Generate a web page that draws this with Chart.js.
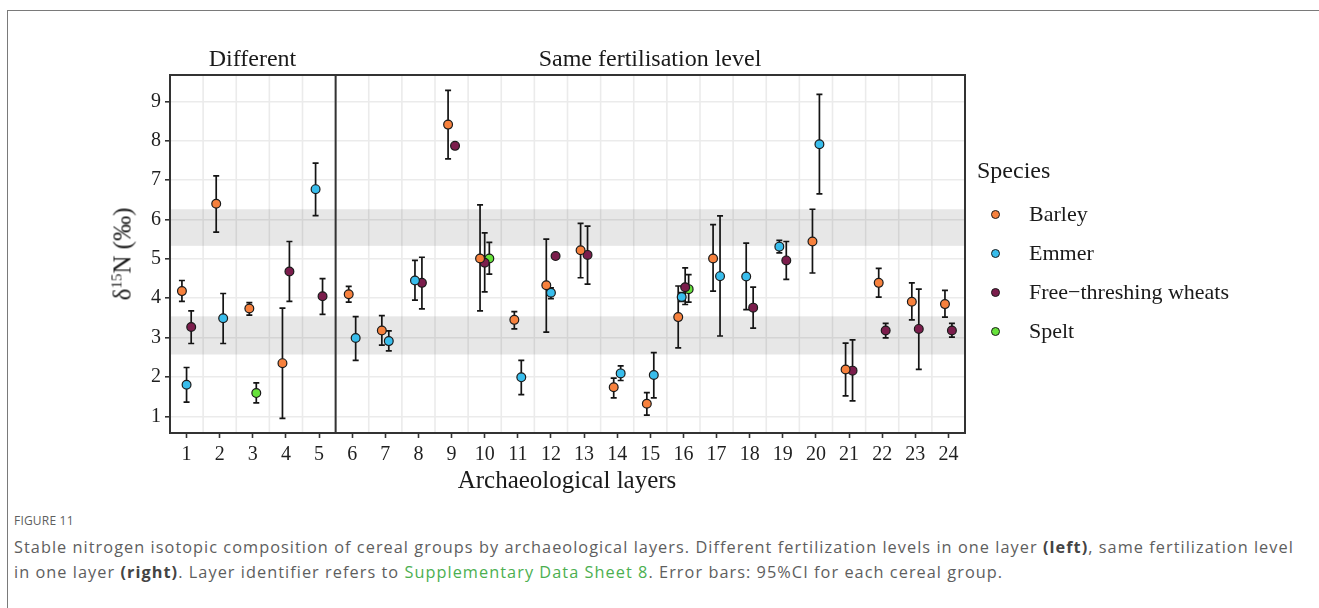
<!DOCTYPE html>
<html>
<head>
<meta charset="utf-8">
<script src="https://cdn.jsdelivr.net/npm/chart.js@4.4.1/dist/chart.umd.min.js"></script>
<style>
  html, body { margin: 0; padding: 0; background: #fff; }
  body { width: 1319px; height: 608px; position: relative; overflow: hidden; }
  #frame { position: absolute; left: 7px; top: 10px; width: 1400px; height: 700px;
           border-left: 1px solid #7a7a7a; border-top: 1px solid #7a7a7a; }
  canvas { position: absolute; left: 0; top: 0; }
  .serif { position: absolute; font-family: "Liberation Serif", "Times New Roman", serif; color: #1a1a1a; line-height: 1; white-space: nowrap; }
  .ptitle { font-size: 24px; transform: translateX(-50%); }
  #ytitle { font-size: 25px; left: 122px; top: 254px; transform: translate(-50%, -50%) rotate(-90deg); }
  #ytitle sup { font-size: 15px; vertical-align: 9px; }
  #xtitle { font-size: 25px; left: 567px; top: 467px; transform: translateX(-50%); }
  #legtitle { font-size: 24px; left: 977px; top: 158px; }
  .legitem { font-size: 22px; left: 1029px; }
  .legdot { position: absolute; width: 7px; height: 7px; border-radius: 50%; border: 1.2px solid #1a1a1a; left: 991.3px; }
  #caption { position: absolute; left: 14px; top: 512px; width: 1292px; font-family: "Open Sans", "Noto Sans", sans-serif; color: #5e5e5e; }
  #fig { font-size: 12px; letter-spacing: 0.2px; margin-bottom: 6px; }
  #captext { font-size: 16.3px; line-height: 25px; letter-spacing: 1.05px; }
  #captext b { color: #444; }
  #captext .lnk { color: #4caf50; }
</style>
</head>
<body>
<div id="frame"></div>
<canvas id="c" width="1319" height="500"></canvas>
<div class="serif ptitle" style="left:252.5px; top:46px;">Different</div>
<div class="serif ptitle" style="left:650px; top:46px;">Same fertilisation level</div>
<div class="serif" id="ytitle">δ<sup>15</sup>N (‰)</div>
<div class="serif" id="xtitle">Archaeological layers</div>
<div class="serif" id="legtitle">Species</div>
<div id="legend"></div>
<div id="caption">
  <div id="fig">FIGURE 11</div>
  <div id="captext">Stable nitrogen isotopic composition of cereal groups by archaeological layers. Different fertilization levels in one layer <b>(left)</b>, same fertilization level in one layer <b>(right)</b>. Layer identifier refers to <span class="lnk">Supplementary Data Sheet 8</span>. Error bars: 95%CI for each cereal group.</div>
</div>
<script>
// ---------------- data ----------------
const xTickLabels = ['1','2','3','4','5','6','7','8','9','10','11','12','13','14','15','16','17','18','19','20','21','22','23','24'];
const yTickValues = [1, 2, 3, 4, 5, 6, 7, 8, 9];
const speciesNames = ['Barley', 'Emmer', 'Free\u2212threshing wheats', 'Spelt'];
const speciesColors = ['#f7813d', '#38bdec', '#7b1d4c', '#66e23a'];

const barleyLayers = [1, 2, 3, 4, 6, 7, 9, 10, 11, 12, 13, 14, 15, 16, 17, 20, 21, 22, 23, 24];
const barleyMean   = [4.18, 6.40, 3.74, 2.35, 4.10, 3.18, 8.41, 5.01, 3.45, 4.33, 5.22, 1.74, 1.32, 3.52, 5.01, 5.44, 2.19, 4.39, 3.91, 3.85];
const barleyLow    = [3.92, 5.68, 3.57, 0.95, 3.90, 2.81, 7.54, 3.68, 3.22, 3.14, 4.52, 1.47, 1.03, 2.74, 4.18, 4.64, 1.52, 4.03, 3.45, 3.52];
const barleyHigh   = [4.45, 7.11, 3.89, 3.75, 4.30, 3.56, 9.28, 6.37, 3.66, 5.50, 5.90, 1.97, 1.60, 4.31, 5.87, 6.26, 2.86, 4.76, 4.39, 4.20];

const emmerLayers = [1, 2, 5, 6, 7, 8, 11, 12, 14, 15, 16, 17, 18, 19, 20];
const emmerMean   = [1.80, 3.49, 6.77, 2.99, 2.91, 4.45, 1.99, 4.14, 2.09, 2.05, 4.03, 4.56, 4.55, 5.31, 7.91];
const emmerLow    = [1.36, 2.85, 6.10, 2.42, 2.66, 3.95, 1.55, 3.99, 1.91, 1.47, 3.92, 3.04, 3.71, 5.15, 6.65];
const emmerHigh   = [2.24, 4.12, 7.43, 3.53, 3.17, 4.96, 2.42, 4.26, 2.28, 2.62, 4.14, 6.09, 5.40, 5.47, 9.18];

const ftwLayers = [1, 4, 5, 8, 9, 10, 12, 13, 16, 18, 19, 21, 22, 23, 24];
const ftwMean   = [3.27, 4.68, 4.05, 4.39, 7.87, 4.90, 5.07, 5.10, 4.28, 3.76, 4.96, 2.16, 3.18, 3.22, 3.18];
const ftwLow    = [2.85, 3.92, 3.59, 3.73, null, 4.16, null, 4.36, 3.84, 3.24, 4.48, 1.39, 2.99, 2.19, 3.01];
const ftwHigh   = [3.68, 5.44, 4.50, 5.04, null, 5.66, null, 5.83, 4.77, 4.28, 5.44, 2.94, 3.36, 4.23, 3.36];

const speltLayers = [3, 10, 16];
const speltMean   = [1.59, 5.01, 4.23];
const speltLow    = [1.34, 4.61, 3.90];
const speltHigh   = [1.85, 5.42, 4.60];

const bandLow  = [2.57, 5.33];
const bandHigh = [3.54, 6.26];
const panelSplit = 5.5;

// ---------------- build ----------------
const series = [
  { layers: barleyLayers, mean: barleyMean, lo: barleyLow, hi: barleyHigh },
  { layers: emmerLayers,  mean: emmerMean,  lo: emmerLow,  hi: emmerHigh },
  { layers: ftwLayers,    mean: ftwMean,    lo: ftwLow,    hi: ftwHigh },
  { layers: speltLayers,  mean: speltMean,  lo: speltLow,  hi: speltHigh }
];
const DODGE = 0.42;
const presence = {};
series.forEach((s, si) => s.layers.forEach(L => { (presence[L] = presence[L] || []).push(si); }));
function dodgeX(L, si) {
  const g = presence[L]; const n = g.length; const i = g.indexOf(si);
  return L + (i - (n - 1) / 2) * DODGE / n;
}
const xTickValues = xTickLabels.map(Number);

const datasets = series.map((s, si) => ({
  label: speciesNames[si],
  data: s.layers.map((L, k) => ({ x: dodgeX(L, si), y: s.mean[k], lo: s.lo[k], hi: s.hi[k] })),
  backgroundColor: speciesColors[si],
  borderColor: '#1a1a1a',
  borderWidth: 1.2,
  pointRadius: 4.4,
  pointHoverRadius: 4.4,
  showLine: false
}));

// legend (HTML)
const leg = document.getElementById('legend');
const legBase = [221.7, 260.6, 299.5, 338.4];
speciesNames.forEach((n, i) => {
  const d = document.createElement('div');
  d.className = 'legdot';
  d.style.top = (legBase[i] - 7 - 4.7) + 'px';
  d.style.background = speciesColors[i];
  leg.appendChild(d);
  const t = document.createElement('div');
  t.className = 'serif legitem';
  t.style.top = (legBase[i] - 18.4) + 'px';
  t.textContent = n;
  leg.appendChild(t);
});

const decor = {
  id: 'decor',
  beforeDatasetsDraw(chart) {
    const { ctx, chartArea: a, scales: { x, y } } = chart;
    ctx.save();
    // vertical grid at category boundaries
    ctx.strokeStyle = '#ebebeb';
    ctx.lineWidth = 1.6;
    for (let i = 0; i < xTickValues.length - 1; i++) {
      const px = x.getPixelForValue((xTickValues[i] + xTickValues[i + 1]) / 2);
      ctx.beginPath(); ctx.moveTo(px, a.top); ctx.lineTo(px, a.bottom); ctx.stroke();
    }
    // shaded bands
    ctx.fillStyle = 'rgba(0,0,0,0.095)';
    for (let b = 0; b < bandLow.length; b++) {
      const y1 = y.getPixelForValue(bandHigh[b]);
      const y2 = y.getPixelForValue(bandLow[b]);
      ctx.fillRect(a.left, y1, a.right - a.left, y2 - y1);
    }
    // error bars
    ctx.strokeStyle = '#141414';
    ctx.lineWidth = 1.7;
    chart.data.datasets.forEach(ds => {
      ds.data.forEach(p => {
        if (p.lo == null || p.hi == null) return;
        const px = x.getPixelForValue(p.x);
        const yl = y.getPixelForValue(p.lo);
        const yh = y.getPixelForValue(p.hi);
        const cw = 3;
        ctx.beginPath();
        ctx.moveTo(px, yl); ctx.lineTo(px, yh);
        ctx.moveTo(px - cw, yl); ctx.lineTo(px + cw, yl);
        ctx.moveTo(px - cw, yh); ctx.lineTo(px + cw, yh);
        ctx.stroke();
      });
    });
    ctx.restore();
  },
  afterDatasetsDraw(chart) {
    const { ctx, chartArea: a, scales: { x } } = chart;
    ctx.save();
    ctx.strokeStyle = '#333333';
    ctx.lineWidth = 2;
    ctx.strokeRect(a.left, a.top, a.right - a.left, a.bottom - a.top);
    const px = x.getPixelForValue(panelSplit);
    ctx.beginPath(); ctx.moveTo(px, a.top); ctx.lineTo(px, a.bottom); ctx.stroke();
    ctx.restore();
  }
};

new Chart(document.getElementById('c'), {
  type: 'scatter',
  data: { datasets },
  options: {
    responsive: false,
    animation: false,
    devicePixelRatio: 1,
    layout: { padding: { left: 0, right: 354, top: 75, bottom: 17 } },
    plugins: { legend: { display: false }, tooltip: { enabled: false }, title: { display: false } },
    scales: {
      x: {
        type: 'linear',
        min: 0.5, max: 24.5,
        afterBuildTicks: s => { s.ticks = xTickValues.map(v => ({ value: v })); },
        afterFit: s => { s.height = 50; },
        border: { display: false },
        grid: { drawOnChartArea: false, drawTicks: true, tickLength: 5, tickColor: '#333333', tickWidth: 1.6 },
        ticks: {
          autoSkip: false, maxRotation: 0, padding: 5,
          color: '#1f1f1f',
          font: { family: 'Liberation Serif', size: 20 },
          callback: (v, i) => xTickLabels[i]
        }
      },
      y: {
        type: 'linear',
        min: 0.576, max: 9.67,
        afterBuildTicks: s => { s.ticks = yTickValues.map(v => ({ value: v })); },
        afterFit: s => { s.width = 170; },
        border: { display: false },
        grid: { color: '#ebebeb', lineWidth: 1.6, drawTicks: true, tickLength: 5, tickColor: '#333333', tickWidth: 1.6 },
        ticks: {
          padding: 4,
          color: '#1f1f1f',
          font: { family: 'Liberation Serif', size: 20 },
          callback: v => String(v)
        }
      }
    }
  },
  plugins: [decor]
});
</script>
</body>
</html>
